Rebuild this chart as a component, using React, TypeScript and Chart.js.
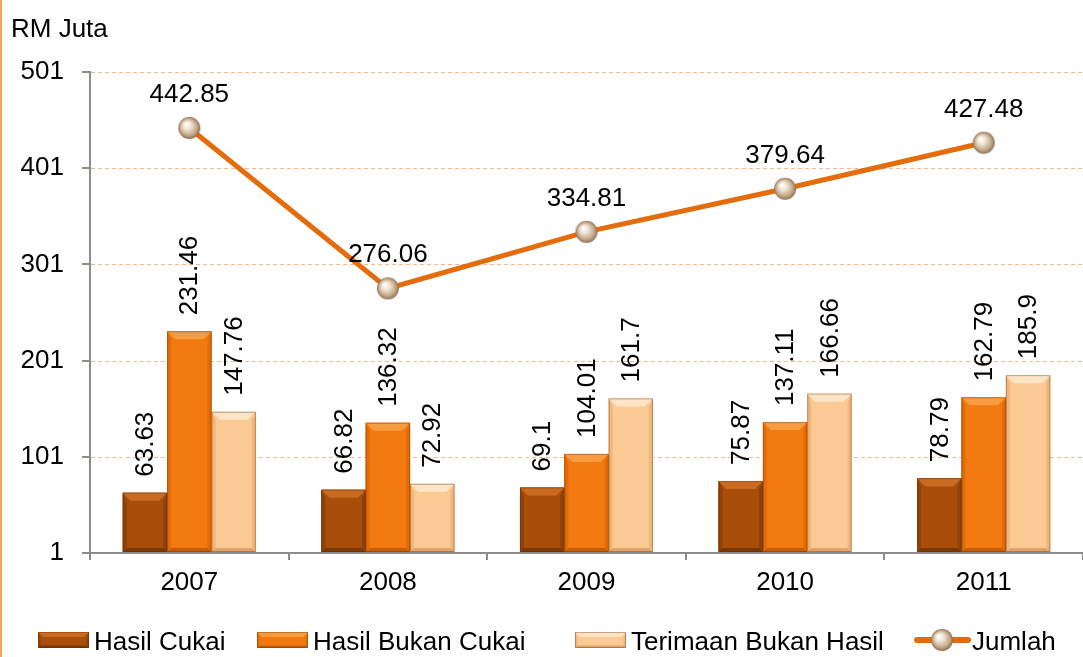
import React, { useEffect, useRef } from "react";
import { Chart, registerables } from "chart.js";

Chart.register(...registerables);

const categories = ["2007", "2008", "2009", "2010", "2011"];
const hasilCukai = [63.63, 66.82, 69.1, 75.87, 78.79];
const hasilBukanCukai = [231.46, 136.32, 104.01, 137.11, 162.79];
const terimaanBukanHasil = [147.76, 72.92, 161.7, 166.66, 185.9];
const jumlah = [442.85, 276.06, 334.81, 379.64, 427.48];
const seriesNames = ["Hasil Cukai", "Hasil Bukan Cukai", "Terimaan Bukan Hasil", "Jumlah"];
const yMin = 1;
const yMax = 501;
const yStep = 100;
const yTitle = "RM Juta";

const FONT = "'Liberation Sans', Arial, sans-serif";
const LINE_COLOR = "#E46C0A";
const FS = 26;

type Pal = { base: string; top: string; side: string; bottom: string };
const palettes: Pal[] = [
  { base: "#A94E0A", top: "#C96C22", side: "#8E4108", bottom: "#7A3806" },
  { base: "#F27A10", top: "#F89C42", side: "#E26C08", bottom: "#C95D06" },
  { base: "#FBC994", top: "#FDE4C6", side: "#F1B57E", bottom: "#DFA46E" },
];

function bevelRect(ctx: CanvasRenderingContext2D, x: number, y: number, w: number, h: number, p: Pal, b: number) {
  ctx.save();
  ctx.fillStyle = p.base;
  ctx.fillRect(x, y, w, h);
  const bb = Math.min(b, h / 2, w / 4);
  ctx.fillStyle = p.top;
  ctx.beginPath();
  ctx.moveTo(x, y);
  ctx.lineTo(x + w, y);
  ctx.lineTo(x + w - bb, y + bb);
  ctx.lineTo(x + bb, y + bb);
  ctx.closePath();
  ctx.fill();
  ctx.fillStyle = p.side;
  ctx.beginPath();
  ctx.moveTo(x, y);
  ctx.lineTo(x + bb * 0.5, y + bb);
  ctx.lineTo(x + bb * 0.5, y + h - bb * 0.5);
  ctx.lineTo(x, y + h);
  ctx.closePath();
  ctx.fill();
  ctx.beginPath();
  ctx.moveTo(x + w, y);
  ctx.lineTo(x + w - bb * 0.5, y + bb);
  ctx.lineTo(x + w - bb * 0.5, y + h - bb * 0.5);
  ctx.lineTo(x + w, y + h);
  ctx.closePath();
  ctx.fill();
  ctx.fillStyle = p.bottom;
  ctx.beginPath();
  ctx.moveTo(x, y + h);
  ctx.lineTo(x + bb * 0.5, y + h - bb * 0.5);
  ctx.lineTo(x + w - bb * 0.5, y + h - bb * 0.5);
  ctx.lineTo(x + w, y + h);
  ctx.closePath();
  ctx.fill();
  ctx.strokeStyle = "rgba(90,40,0,0.35)";
  ctx.lineWidth = 1;
  ctx.strokeRect(x + 0.5, y + 0.5, w - 1, h - 1);
  ctx.restore();
}

function drawSphere(ctx: CanvasRenderingContext2D, cx: number, cy: number, r: number) {
  ctx.save();
  const g = ctx.createRadialGradient(cx - r * 0.3, cy - r * 0.35, r * 0.05, cx, cy, r);
  g.addColorStop(0, "#FFFFFF");
  g.addColorStop(0.35, "#EEE2D2");
  g.addColorStop(0.75, "#C4A888");
  g.addColorStop(1, "#8A7055");
  ctx.fillStyle = g;
  ctx.beginPath();
  ctx.arc(cx, cy, r, 0, Math.PI * 2);
  ctx.fill();
  ctx.restore();
}

function makeSphereCanvas(r: number): HTMLCanvasElement {
  const c = document.createElement("canvas");
  c.width = r * 2 + 2;
  c.height = r * 2 + 2;
  const ctx = c.getContext("2d")!;
  drawSphere(ctx, r + 1, r + 1, r);
  return c;
}

const decorPlugin = {
  id: "decor",
  beforeDatasetsDraw(chart: any) {
    const { ctx, chartArea } = chart;
    const ys = chart.scales.y;
    ctx.save();
    ctx.strokeStyle = "#F6B58A";
    ctx.lineWidth = 1;
    ctx.setLineDash([4, 3]);
    ys.ticks.forEach((t: any) => {
      if (t.value === yMin) return;
      const py = Math.round(ys.getPixelForValue(t.value)) + 0.5;
      ctx.beginPath();
      ctx.moveTo(chartArea.left + 1, py);
      ctx.lineTo(chartArea.right, py);
      ctx.stroke();
    });
    ctx.restore();
  },
  afterDatasetDraw(chart: any, args: any) {
    const idx = args.index;
    if (idx > 2) return;
    const { ctx } = chart;
    const meta = chart.getDatasetMeta(idx);
    meta.data.forEach((el: any) => {
      const { x, y, base, width } = el.getProps(["x", "y", "base", "width"], true);
      bevelRect(ctx, x - width / 2, y, width, base - y, palettes[idx], 8);
    });
  },
  afterDraw(chart: any) {
    const { ctx } = chart;
    ctx.save();
    ctx.fillStyle = "#000";
    ctx.font = `${FS}px ${FONT}`;
    for (let d = 0; d < 3; d++) {
      const meta = chart.getDatasetMeta(d);
      const vals = chart.data.datasets[d].data as number[];
      meta.data.forEach((el: any, i: number) => {
        ctx.save();
        ctx.translate(el.x + 1, el.y - 16);
        ctx.rotate(-Math.PI / 2);
        ctx.textAlign = "left";
        ctx.textBaseline = "middle";
        ctx.fillText(String(vals[i]), 0, 0);
        ctx.restore();
      });
    }
    const lm = chart.getDatasetMeta(3);
    const lv = chart.data.datasets[3].data as number[];
    lm.data.forEach((el: any, i: number) => {
      ctx.textAlign = "center";
      ctx.textBaseline = "alphabetic";
      ctx.fillText(String(lv[i]), el.x, el.y - 26);
    });
    ctx.textAlign = "left";
    ctx.fillText(yTitle, 11, 37);
    const ly = 632;
    const sw = 51;
    const sh = 16;
    const swatchX = [38, 257, 575];
    for (let k = 0; k < 3; k++) {
      bevelRect(ctx, swatchX[k], ly, sw, sh, palettes[k], 5);
      ctx.fillStyle = "#000";
      ctx.textAlign = "left";
      ctx.textBaseline = "alphabetic";
      ctx.fillText(seriesNames[k], swatchX[k] + 56, 650);
    }
    ctx.strokeStyle = LINE_COLOR;
    ctx.lineWidth = 6;
    ctx.lineCap = "round";
    ctx.beginPath();
    ctx.moveTo(917, 640);
    ctx.lineTo(968, 640);
    ctx.stroke();
    drawSphere(ctx, 942, 640, 11);
    ctx.fillStyle = "#000";
    ctx.fillText(seriesNames[3], 972, 650);
    ctx.restore();
  },
};

export default function App() {
  const ref = useRef<HTMLCanvasElement | null>(null);
  useEffect(() => {
    if (!ref.current) return;
    Chart.defaults.font.family = FONT;
    const sphere = makeSphereCanvas(11);
    const chart = new Chart(ref.current, {
      type: "bar",
      data: {
        labels: categories,
        datasets: [
          { type: "bar", label: seriesNames[0], data: hasilCukai, backgroundColor: palettes[0].base, base: yMin, order: 2 } as any,
          { type: "bar", label: seriesNames[1], data: hasilBukanCukai, backgroundColor: palettes[1].base, base: yMin, order: 2 } as any,
          { type: "bar", label: seriesNames[2], data: terimaanBukanHasil, backgroundColor: palettes[2].base, base: yMin, order: 2 } as any,
          {
            type: "line",
            label: seriesNames[3],
            data: jumlah,
            borderColor: LINE_COLOR,
            borderWidth: 5,
            pointStyle: sphere,
            pointRadius: 11,
            tension: 0,
            order: 1,
          } as any,
        ],
      },
      options: {
        responsive: false,
        animation: false,
        devicePixelRatio: 1,
        layout: { autoPadding: false, padding: { top: 72, right: 0, left: 0, bottom: 0 } } as any,
        datasets: { bar: { barPercentage: 1, categoryPercentage: 0.67 } } as any,
        plugins: { legend: { display: false }, tooltip: { enabled: false } },
        scales: {
          x: {
            offset: true,
            grid: { display: true, drawOnChartArea: false, offset: true, tickLength: 7, color: "#8C8C8C", lineWidth: 2 },
            border: { color: "#8C8C8C", width: 2 },
            ticks: { color: "#000", font: { size: FS, family: FONT }, padding: 7 },
            afterFit: (s: any) => {
              s.height = 104;
              s.paddingLeft = 0;
              s.paddingRight = 0;
            },
          },
          y: {
            min: yMin,
            max: yMax,
            ticks: { stepSize: yStep, color: "#000", font: { size: FS, family: FONT }, padding: 18 },
            grid: { display: true, drawOnChartArea: false, tickLength: 8, color: "#8C8C8C", lineWidth: 2 },
            border: { color: "#8C8C8C", width: 2 },
            afterFit: (s: any) => {
              s.width = 90;
              s.paddingTop = 0;
              s.paddingBottom = 0;
            },
          },
        },
      },
      plugins: [decorPlugin as any],
    });
    return () => chart.destroy();
  }, []);
  return (
    <div style={{ position: "fixed", left: 0, top: 0, width: 1083, height: 657, background: "#fff" }}>
      <div style={{ position: "absolute", left: 0, top: 0, width: 2, height: 657, background: "#F5A467" }} />
      <canvas ref={ref} width={1083} height={657} style={{ display: "block" }} />
    </div>
  );
}
